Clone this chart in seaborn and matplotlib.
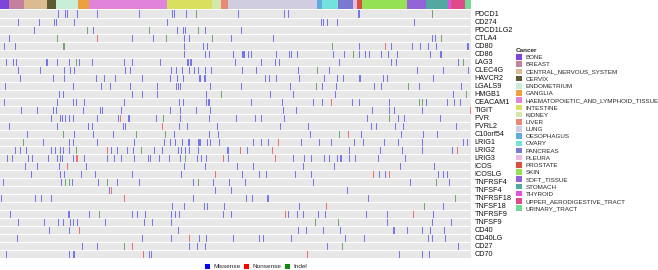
import numpy as np
import pandas as pd
import seaborn as sns
import matplotlib
matplotlib.use("Agg")
import matplotlib.pyplot as plt
from matplotlib.colors import ListedColormap
from matplotlib.patches import Patch

# ---------------- data ----------------
genes = ["PDCD1", "CD274", "PDCD1LG2", "CTLA4", "CD80", "CD86", "LAG3", "CLEC4G",
         "HAVCR2", "LGALS9", "HMGB1", "CEACAM1", "TIGIT", "PVR", "PVRL2", "C10orf54",
         "LRIG1", "LRIG2", "LRIG3", "ICOS", "ICOSLG", "TNFRSF4", "TNFSF4", "TNFRSF18",
         "TNFSF18", "TNFRSF9", "TNFSF9", "CD40", "CD40LG", "CD27", "CD70"]

cancer_types = ["BONE", "BREAST", "CENTRAL_NERVOUS_SYSTEM", "CERVIX", "ENDOMETRIUM",
                "GANGLIA", "HAEMATOPOIETIC_AND_LYMPHOID_TISSUE", "INTESTINE", "KIDNEY",
                "LIVER", "LUNG", "OESOPHAGUS", "OVARY", "PANCREAS", "PLEURA", "PROSTATE",
                "SKIN", "SOFT_TISSUE", "STOMACH", "THYROID", "UPPER_AERODIGESTIVE_TRACT",
                "URINARY_TRACT"]
# number of samples (columns) per cancer type, in display order
cancer_sizes = [9, 15, 23, 9, 22, 11, 78, 45, 9, 7, 89, 5, 16, 15, 4, 5, 45, 19, 22, 3, 14, 6]
cancer_colors = ["#7d45db", "#c67f9f", "#dcbb92", "#5b5a33", "#c9edd9", "#eba23e",
                 "#e083d9", "#d9e05e", "#d3e8a9", "#e98a79", "#d1cde0", "#62a9e2",
                 "#72e2da", "#7a79d2", "#e9bbe2", "#d9503f", "#94e155", "#9462d9",
                 "#53a8a1", "#e052e0", "#e04a89", "#72d994"]

# mutated sample indices per gene
missense = {
    "PDCD1": [58, 65, 67, 77, 97, 139, 172, 174, 186, 238, 284, 288, 358, 359],
    "CD274": [18, 39, 54, 56, 74, 167, 321, 323, 327, 337, 414],
    "PDCD1LG2": [34, 93, 177, 183, 185, 205, 241],
    "CTLA4": [9, 132, 153, 184, 189, 231, 273, 432, 435],
    "CD80": [4, 15, 184, 203, 207, 359, 391, 412, 420, 428, 436, 467, 468],
    "CD86": [184, 205, 209, 233, 242, 243, 244, 248, 251, 276, 289, 291, 297, 333, 344,
             359, 365, 369, 381, 388, 397, 430, 440, 441],
    "LAG3": [6, 13, 16, 46, 47, 57, 69, 79, 92, 124, 132, 160, 187, 188, 190, 191, 235,
             261, 275, 279, 339, 391, 396, 458],
    "CLEC4G": [18, 40, 64, 70, 74, 125, 130, 171, 176, 182, 189, 194, 198, 205, 211, 242,
               256, 298, 329, 417, 443, 468],
    "HAVCR2": [20, 53, 64, 96, 104, 115, 142, 170, 177, 183, 199, 200, 204, 205, 265, 269,
               276, 299, 324, 337, 343, 359, 360, 383, 387, 433],
    "LGALS9": [5, 73, 101, 110, 130, 157, 176, 178, 180, 210, 241, 290, 322, 336, 374,
               381, 419, 461],
    "HMGB1": [59, 63, 132, 142, 157, 206, 270, 293, 335, 453],
    "CEACAM1": [4, 57, 73, 76, 84, 124, 179, 183, 206, 208, 209, 251, 282, 313, 322, 352,
                359, 389, 426, 447, 454, 460],
    "TIGIT": [21, 37, 53, 56, 83, 100, 102, 121, 170, 180, 196, 210, 283, 296, 372, 389,
              394, 422],
    "PVR": [51, 60, 62, 65, 69, 73, 97, 118, 128, 129, 156, 180, 209, 236, 255, 261, 284,
            367, 398, 404, 440],
    "PVRL2": [9, 57, 88, 92, 123, 125, 179, 187, 217, 280, 308, 371, 376, 395, 403, 456],
    "C10orf54": [27, 74, 93, 113, 174, 209, 218, 310, 361, 401, 423, 437],
    "LRIG1": [43, 69, 73, 97, 134, 164, 170, 175, 182, 188, 189, 198, 199, 200, 207, 210,
              219, 253, 261, 268, 301, 319, 331, 354, 363, 384, 398, 422, 463, 467],
    "LRIG2": [15, 20, 26, 51, 55, 60, 63, 69, 111, 117, 127, 133, 154, 162, 178, 181, 185,
              189, 198, 227, 228, 247, 349, 380, 402, 422, 452],
    "LRIG3": [7, 12, 28, 32, 48, 57, 60, 62, 73, 84, 107, 114, 121, 134, 148, 150, 159,
              169, 180, 197, 201, 206, 228, 293, 304, 311, 324, 329, 337, 340, 341, 349,
              355, 378, 405],
    "ICOS": [25, 37, 59, 86, 184, 205, 237, 253, 303, 334, 400, 434],
    "ICOSLG": [31, 60, 64, 81, 95, 132, 181, 242, 259, 266, 295, 311, 379, 385, 438, 443, 447],
    "TNFRSF4": [3, 61, 72, 98, 117, 139, 193, 213, 229, 245, 313, 410, 449],
    "TNFSF4": [109, 215, 231, 347],
    "TNFRSF18": [1, 35, 41, 51, 193, 246, 252, 267, 268, 368],
    "TNFSF18": [172, 184, 204, 207, 224, 299, 443],
    "TNFRSF9": [10, 68, 69, 89, 132, 137, 145, 171, 175, 179, 223, 231, 288, 297, 303, 318,
                325, 366, 387, 433],
    "TNFSF9": [18, 44, 58, 63, 70, 73, 77, 105, 144, 152, 171, 387, 432, 451],
    "CD40": [49, 69, 178, 298, 306, 323, 340, 393, 394, 407, 422, 430, 444],
    "CD40LG": [17, 142, 171, 199, 206, 233, 259, 263, 291, 345, 364, 428, 432, 445],
    "CD27": [82, 97, 189, 197, 205, 327, 458],
    "CD70": [6, 69, 73, 74, 149, 151, 399, 422, 429],
}
nonsense = {
    "CTLA4": [97], "CD80": [385], "CEACAM1": [331], "TIGIT": [470], "PVR": [120],
    "PVRL2": [162], "C10orf54": [348], "LRIG1": [278], "LRIG2": [107, 240, 272, 457],
    "LRIG3": [76, 77, 223, 275], "ICOS": [67], "ICOSLG": [215, 373, 389],
    "TNFSF4": [111], "TNFRSF18": [124], "TNFSF18": [326], "TNFRSF9": [285, 413],
    "CD40": [79], "CD40LG": [189], "CD27": [132], "CD70": [143, 307],
}
indel = {
    "PDCD1": [196, 432], "PDCD1LG2": [87, 149, 198], "CTLA4": [57, 166, 212, 441],
    "CD80": [63, 64, 332], "CD86": [353], "LAG3": [76, 463], "CLEC4G": [317],
    "LGALS9": [316, 408], "HMGB1": [221, 466], "CEACAM1": [419, 422], "PVR": [163, 389],
    "C10orf54": [63, 136, 165, 339], "LRIG1": [23], "LRIG2": [76, 141], "LRIG3": [185],
    "TNFRSF4": [65, 69, 107, 198, 436], "TNFRSF18": [455], "TNFSF18": [424],
    "TNFRSF9": [99], "TNFSF9": [315, 338], "CD27": [124, 342],
}
mutation_types = ["Missense", "Nonsense", "Indel"]
mutation_colors = ["#0000ff", "#ff0000", "#0a8a0a"]
cell_colors = ["#e7e7e7", "#7474ec", "#ec7070", "#6ea66e"]

# ---------------- build matrices ----------------
n_samples = sum(cancer_sizes)
mat = np.zeros((len(genes), n_samples), dtype=int)
for code, table in enumerate([missense, nonsense, indel], start=1):
    for g, cols in table.items():
        mat[genes.index(g), cols] = code
df = pd.DataFrame(mat, index=genes)
annot = pd.DataFrame(np.repeat(np.arange(len(cancer_types)), cancer_sizes)[None, :])

# ---------------- figure ----------------
sns.set_style("white")
plt.rcParams["font.family"] = ["Liberation Sans", "DejaVu Sans"]
W, H = 658, 270
fig = plt.figure(figsize=(W / 100, H / 100), dpi=100)

ax_top = fig.add_axes([0, 1 - 9 / H, 471 / W, 9 / H])
ax = fig.add_axes([0, 12 / H, 471 / W, 248 / H])

sns.heatmap(annot, ax=ax_top, cmap=ListedColormap(cancer_colors),
            vmin=-0.5, vmax=len(cancer_types) - 0.5, cbar=False,
            xticklabels=False, yticklabels=False)
sns.heatmap(df, ax=ax, cmap=ListedColormap(cell_colors), vmin=-0.5, vmax=3.5,
            cbar=False, xticklabels=False, yticklabels=True)
ax.hlines(np.arange(1, len(genes)), 0, n_samples, colors="white", linewidth=0.8)
ax.yaxis.tick_right()
ax.tick_params(axis="y", length=0, pad=2.5, labelsize=5.2, labelrotation=0,
               labelcolor="#111111")

cancer_handles = [Patch(facecolor=c, edgecolor="none", label=t)
                  for t, c in zip(cancer_types, cancer_colors)]
fig.legend(handles=cancer_handles, loc="upper left",
           bbox_to_anchor=(516 / W, 1 - 48 / H), frameon=False, fontsize=4.5,
           title="Cancer", title_fontproperties={"weight": "bold", "size": 4.6},
           alignment="left", handlelength=1.0, handleheight=1.0, handletextpad=0.5,
           labelspacing=0.2, borderpad=0, borderaxespad=0)

mut_handles = [Patch(facecolor=c, edgecolor="none", label=t)
               for t, c in zip(mutation_types, mutation_colors)]
fig.legend(handles=mut_handles, loc="center", bbox_to_anchor=(256 / W, 1 - 266.5 / H),
           ncol=3, frameon=False, fontsize=4.6, handlelength=0.8, handleheight=0.8,
           handletextpad=0.5, columnspacing=0.6, borderpad=0, borderaxespad=0)

fig.savefig("out.png", dpi=100)
